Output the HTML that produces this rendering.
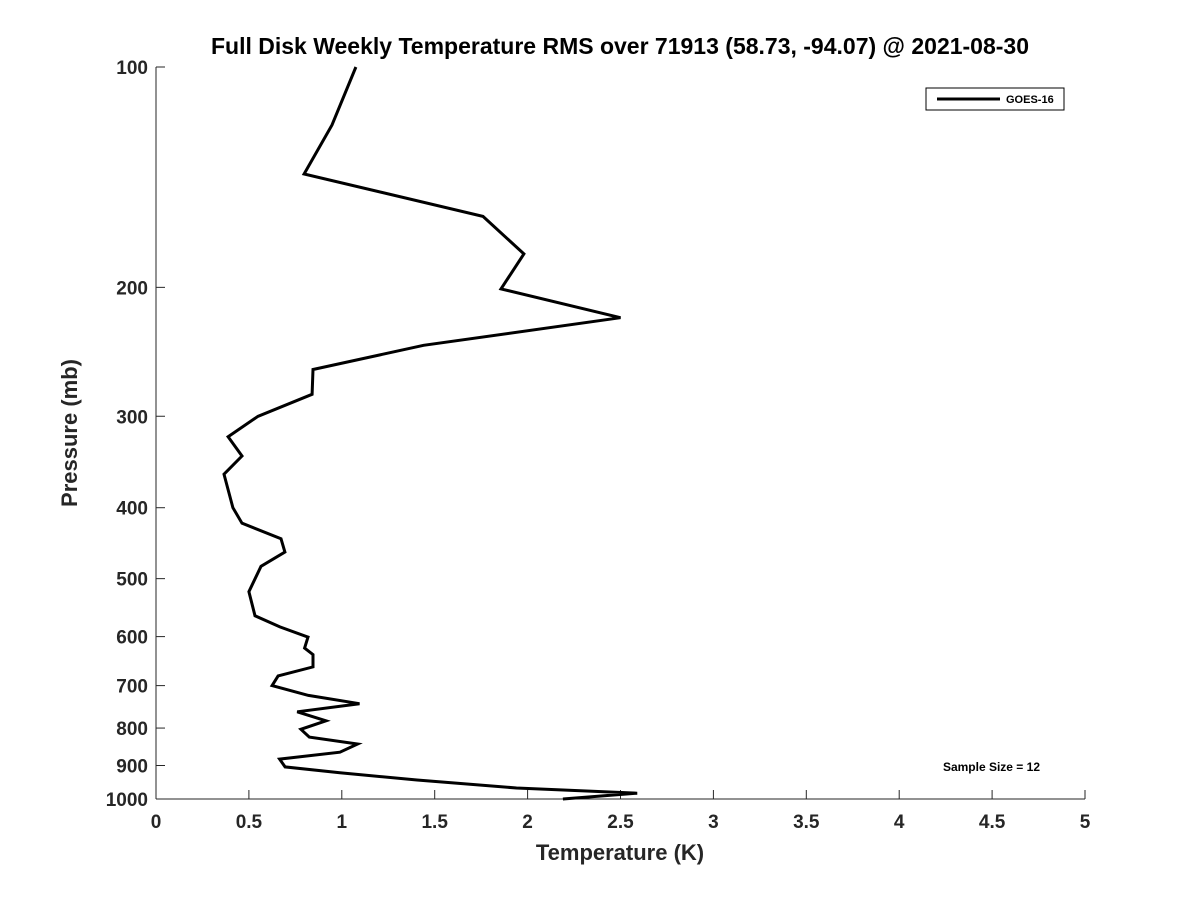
<!DOCTYPE html>
<html><head><meta charset="utf-8"><style>
body{margin:0;background:#fff}
svg text{font-family:"Liberation Sans",sans-serif;font-weight:bold;fill:#262626}
</style></head><body>
<svg id="chart" width="1200" height="900">
<text x="620" y="54" text-anchor="middle" font-size="23" fill="#000" style="fill:#000">Full Disk Weekly Temperature RMS over 71913 (58.73, -94.07) @ 2021-08-30</text>
<g id="axes"></g>
<path id="line" fill="none" stroke="#000" stroke-width="3" stroke-linejoin="miter"/>
<g>
<rect x="926" y="88" width="138" height="22" fill="#fff" stroke="#000" stroke-width="1"/>
<line x1="937" y1="99" x2="1000" y2="99" stroke="#000" stroke-width="3"/>
<text x="1006" y="103" font-size="11" style="fill:#000">GOES-16</text>
</g>
<text x="1040" y="771" text-anchor="end" font-size="12" style="fill:#000">Sample Size = 12</text>
<text x="620" y="860" text-anchor="middle" font-size="22">Temperature (K)</text>
<text transform="translate(77,433) rotate(-90)" text-anchor="middle" font-size="22">Pressure (mb)</text>
</svg>
<script>
const xTicks=[0,0.5,1,1.5,2,2.5,3,3.5,4,4.5,5];
const xTickLabels=["0","0.5","1","1.5","2","2.5","3","3.5","4","4.5","5"];
const yTicks=[100,200,300,400,500,600,700,800,900,1000];
const yTickLabels=["100","200","300","400","500","600","700","800","900","1000"];
const pressures=[100,120,140,160,180,201,220,240,259,280,300,320,340,360,400,420,441,460,481,521,562,582,601,622,635,660,679,700,722,741,760,782,803,823,841,863,882,904,921,942,966,982,1000];
const temps=[1.076,0.947,0.797,1.76,1.98,1.857,2.50,1.44,0.845,0.84,0.549,0.388,0.463,0.366,0.414,0.463,0.673,0.694,0.565,0.5,0.533,0.667,0.818,0.80,0.845,0.845,0.657,0.625,0.82,1.095,0.76,0.915,0.78,0.825,1.085,0.99,0.665,0.695,0.99,1.405,1.94,2.59,2.19];
const X0=156,X1=1085,Y0=67,Y1=799;
const xs=v=>X0+(v-0)/(5-0)*(X1-X0);
const ys=p=>Y0+(Math.log10(p)-2)/(3-2)*(Y1-Y0);
const ns="http://www.w3.org/2000/svg";
const ax=document.getElementById('axes');
function mk(t,a,txt){const e=document.createElementNS(ns,t);for(const k in a)e.setAttribute(k,a[k]);if(txt!=null)e.textContent=txt;ax.appendChild(e);return e;}
const xl=mk('line',{x1:X0,y1:Y1,x2:X1,y2:Y1,stroke:'#262626','stroke-width':1});


const yl=mk('line',{x1:X0,y1:Y0,x2:X0,y2:Y1,stroke:'#262626','stroke-width':1});


xTicks.forEach((v,i)=>{const x=xs(v);
mk('line',{x1:x,y1:Y1,x2:x,y2:Y1-9,stroke:'#262626'});
const t=mk('text',{x:x,y:Y1+29,'text-anchor':'middle','font-size':19},xTickLabels[i]);

});
yTicks.forEach((v,i)=>{const y=ys(v);
mk('line',{x1:X0,y1:y,x2:X0+9,y2:y,stroke:'#262626'});
const t=mk('text',{x:X0-8,y:y+7,'text-anchor':'end','font-size':19},yTickLabels[i]);

});
document.getElementById('line').setAttribute('d',temps.map((t,i)=>(i?'L':'M')+xs(t).toFixed(1)+','+ys(pressures[i]).toFixed(1)).join(' '));
</script>
</body></html>
